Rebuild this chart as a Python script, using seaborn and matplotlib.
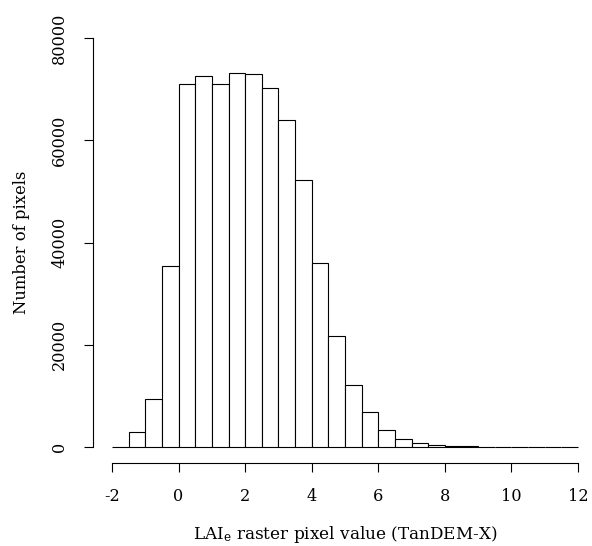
import numpy as np
import pandas as pd
import seaborn as sns
import matplotlib.pyplot as plt

# bin edges (0.5 wide) and counts
bin_edges = [-2.0 + 0.5 * i for i in range(29)]
counts = [100, 2900, 9400, 35400, 71000, 72500, 71000, 73100, 72900, 70200,
          64000, 52200, 36000, 21700, 12200, 6800, 3400, 1500, 700, 400,
          200, 150, 100, 60, 40, 30, 0, 0]
x_ticks = [-2, 0, 2, 4, 6, 8, 10, 12]
y_ticks = [0, 20000, 40000, 60000, 80000]

df = pd.DataFrame({
    'mid': [(a + b) / 2 for a, b in zip(bin_edges[:-1], bin_edges[1:])],
    'count': counts,
})

sns.set_style("ticks")
plt.rcParams['font.family'] = ['DejaVu Serif']
plt.rcParams['mathtext.fontset'] = 'dejavuserif'
plt.rcParams['axes.unicode_minus'] = False
plt.rcParams['text.color'] = 'black'
plt.rcParams['axes.labelcolor'] = 'black'

fig = plt.figure(figsize=(5.92, 5.46), dpi=100)
ax = fig.add_axes([0.1563, 0.1513, 0.8437, 0.8091])

sns.histplot(data=df, x='mid', weights='count', bins=bin_edges, ax=ax,
             color='white', edgecolor='black', linewidth=0.8, alpha=1)

ax.set_xlim(-2.586, 12.42)
ax.set_ylim(-3200, 83200)
ax.set_xticks(x_ticks)
ax.set_xticklabels([str(v) for v in x_ticks])
ax.set_yticks(y_ticks)
ax.set_yticklabels([str(v) for v in y_ticks], rotation=90, va='center')

sns.despine(ax=ax)
ax.spines['left'].set_bounds(0, 80000)
ax.spines['bottom'].set_bounds(-2, 12)
for s in ['left', 'bottom']:
    ax.spines[s].set_linewidth(0.8)
    ax.spines[s].set_color('black')
ax.tick_params(axis='both', direction='out', length=6.5, width=0.8,
               labelsize=11.6, colors='black')
ax.tick_params(axis='x', pad=11)
ax.tick_params(axis='y', pad=11)

ax.set_xlabel('LAI$_\\mathrm{e}$ raster pixel value (TanDEM-X)', fontsize=12.2)
ax.set_ylabel('Number of pixels', fontsize=11.8)
ax.xaxis.set_label_coords(0.5055, -0.162)
ax.yaxis.set_label_coords(-0.143, 0.5)
ax.xaxis.label.set_va('center')
ax.yaxis.label.set_va('center')

fig.savefig('out.png', dpi=100)
